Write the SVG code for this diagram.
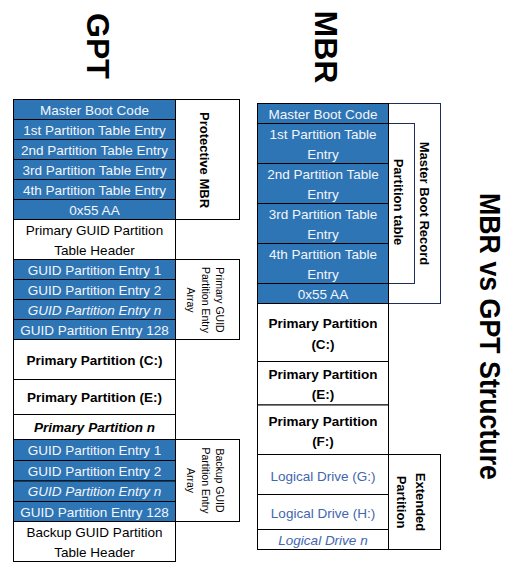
<svg xmlns="http://www.w3.org/2000/svg" width="520" height="572" viewBox="0 0 520 572">
<style>
.bl{fill:#2e75b6;stroke:#000;stroke-width:1}
.wh{fill:#fff;stroke:#000;stroke-width:1}
.nv{fill:#fff;stroke:#1f2d5c;stroke-width:1}
text{font-family:"Liberation Sans",Arial,sans-serif;font-size:13.5px;text-anchor:middle;fill:#000}
.tw{fill:#f4f6fa}
.b{font-weight:bold}
.i{font-style:italic}
.lg{fill:#3f66ae}
.sm{font-size:10.5px}
.vb{font-weight:bold;font-size:13px}
.title{font-weight:bold;font-size:32px}
</style>
<rect width="520" height="572" fill="#fff"/>

<g id="titles">
<text class="title" transform="translate(87,46) rotate(90)">GPT</text>
<text class="title" transform="translate(315,47) rotate(90)">MBR</text>
<text class="title" style="font-size:30px" transform="translate(480,336.5) rotate(90)" textLength="287" lengthAdjust="spacingAndGlyphs">MBR vs GPT Structure</text>
</g>

<!-- GPT column -->
<g id="gpt-protective-mbr">
<rect class="wh" x="175.5" y="99.5" width="64" height="120"/>
<text class="vb" transform="translate(199.5,160) rotate(90)">Protective MBR</text>
</g>
<g id="gpt-master-boot-code"><rect class="bl" x="13.5" y="99.5" width="162" height="20"/><text class="tw" x="94.5" y="114.5">Master Boot Code</text></g>
<g id="gpt-pte1"><rect class="bl" x="13.5" y="119.5" width="162" height="20"/><text class="tw" x="94.5" y="134.5">1st Partition Table Entry</text></g>
<g id="gpt-pte2"><rect class="bl" x="13.5" y="139.5" width="162" height="20"/><text class="tw" x="94.5" y="154.5">2nd Partition Table Entry</text></g>
<g id="gpt-pte3"><rect class="bl" x="13.5" y="159.5" width="162" height="20"/><text class="tw" x="94.5" y="174.5">3rd Partition Table Entry</text></g>
<g id="gpt-pte4"><rect class="bl" x="13.5" y="179.5" width="162" height="20"/><text class="tw" x="94.5" y="194.5">4th Partition Table Entry</text></g>
<g id="gpt-sig"><rect class="bl" x="13.5" y="199.5" width="162" height="20"/><text class="tw" x="94.5" y="214.5">0x55 AA</text></g>
<g id="gpt-primary-header"><rect class="wh" x="13.5" y="219.5" width="162" height="40"/><text x="94.5" y="234.5">Primary GUID Partition</text><text x="94.5" y="254.5">Table Header</text></g>

<g id="gpt-primary-array">
<rect class="wh" x="175.5" y="259.5" width="64" height="80"/>
<text class="sm" transform="translate(216,300) rotate(90)">Primary GUID</text>
<text class="sm" transform="translate(201.5,300) rotate(90)">Partition Entry</text>
<text class="sm" transform="translate(187,300) rotate(90)">Array</text>
</g>
<g id="gpt-p-entry1"><rect class="bl" x="13.5" y="259.5" width="162" height="20"/><text class="tw" x="94.5" y="274.5">GUID Partition Entry 1</text></g>
<g id="gpt-p-entry2"><rect class="bl" x="13.5" y="279.5" width="162" height="20"/><text class="tw" x="94.5" y="294.5">GUID Partition Entry 2</text></g>
<g id="gpt-p-entryn"><rect class="bl" x="13.5" y="299.5" width="162" height="20"/><text class="tw i" x="94.5" y="314.5">GUID Partition Entry n</text></g>
<g id="gpt-p-entry128"><rect class="bl" x="13.5" y="319.5" width="162" height="20"/><text class="tw" x="94.5" y="334.5">GUID Partition Entry 128</text></g>

<g id="gpt-part-c"><rect class="wh" x="13.5" y="339.5" width="162" height="40"/><text class="b" x="94.5" y="364.5">Primary Partition (C:)</text></g>
<g id="gpt-part-e"><rect class="wh" x="13.5" y="379.5" width="162" height="35"/><text class="b" x="94.5" y="402">Primary Partition (E:)</text></g>
<g id="gpt-part-n"><rect class="wh" x="13.5" y="414.5" width="162" height="25"/><text class="b i" x="94.5" y="432">Primary Partition n</text></g>

<g id="gpt-backup-array">
<rect class="wh" x="175.5" y="439.5" width="64" height="82"/>
<text class="sm" transform="translate(216,480.5) rotate(90)">Backup GUID</text>
<text class="sm" transform="translate(201.5,480.5) rotate(90)">Partition Entry</text>
<text class="sm" transform="translate(187,480.5) rotate(90)">Array</text>
</g>
<g id="gpt-b-entry1"><rect class="bl" x="13.5" y="439.5" width="162" height="21"/><text class="tw" x="94.5" y="455">GUID Partition Entry 1</text></g>
<g id="gpt-b-entry2"><rect class="bl" x="13.5" y="460.5" width="162" height="20.5"/><text class="tw" x="94.5" y="475.5">GUID Partition Entry 2</text></g>
<g id="gpt-b-entryn"><rect class="bl" x="13.5" y="481" width="162" height="20.5"/><text class="tw i" x="94.5" y="496">GUID Partition Entry n</text></g>
<g id="gpt-b-entry128"><rect class="bl" x="13.5" y="501.5" width="162" height="20"/><text class="tw" x="94.5" y="516.5">GUID Partition Entry 128</text></g>
<g id="gpt-backup-header"><rect class="wh" x="13.5" y="521.5" width="162" height="40"/><text x="94.5" y="537">Backup GUID Partition</text><text x="94.5" y="556.5">Table Header</text></g>

<!-- MBR column -->
<g id="mbr-master-boot-record">
<rect class="nv" x="388.5" y="103.5" width="52" height="200"/>
<text class="vb" transform="translate(419.5,203.5) rotate(90)">Master Boot Record</text>
</g>
<g id="mbr-partition-table">
<rect class="nv" x="388.5" y="123.5" width="26" height="160"/>
<text class="vb" transform="translate(393.5,202) rotate(90)">Partition table</text>
</g>
<g id="mbr-master-boot-code"><rect class="bl" x="257.5" y="103.5" width="131" height="20"/><text class="tw" x="323" y="118.5">Master Boot Code</text></g>
<g id="mbr-pte1"><rect class="bl" x="257.5" y="123.5" width="131" height="40"/><text class="tw" x="323" y="138.5">1st Partition Table</text><text class="tw" x="323" y="158.5">Entry</text></g>
<g id="mbr-pte2"><rect class="bl" x="257.5" y="163.5" width="131" height="40"/><text class="tw" x="323" y="178.5">2nd Partition Table</text><text class="tw" x="323" y="198.5">Entry</text></g>
<g id="mbr-pte3"><rect class="bl" x="257.5" y="203.5" width="131" height="40"/><text class="tw" x="323" y="218.5">3rd Partition Table</text><text class="tw" x="323" y="238.5">Entry</text></g>
<g id="mbr-pte4"><rect class="bl" x="257.5" y="243.5" width="131" height="40"/><text class="tw" x="323" y="258.5">4th Partition Table</text><text class="tw" x="323" y="278.5">Entry</text></g>
<g id="mbr-sig"><rect class="bl" x="257.5" y="283.5" width="131" height="20"/><text class="tw" x="323" y="298.5">0x55 AA</text></g>

<g id="mbr-part-c"><rect class="wh" x="257.5" y="303.5" width="131" height="58"/><text class="b" x="323" y="328">Primary Partition</text><text class="b" x="323" y="348.5">(C:)</text></g>
<g id="mbr-part-e"><rect class="wh" x="257.5" y="361.5" width="131" height="43.5"/><text class="b" x="323" y="379">Primary Partition</text><text class="b" x="323" y="399">(E:)</text></g>
<g id="mbr-part-f"><rect class="wh" x="257.5" y="405" width="131" height="49.5"/><text class="b" x="323" y="425.5">Primary Partition</text><text class="b" x="323" y="446">(F:)</text></g>

<g id="mbr-extended">
<rect class="wh" x="388.5" y="454.5" width="52" height="95"/>
<text class="vb" transform="translate(416,502) rotate(90)">Extended</text>
<text class="vb" transform="translate(397,502) rotate(90)">Partition</text>
</g>
<g id="mbr-logical-g"><rect class="wh" x="257.5" y="454.5" width="131" height="40"/><text class="lg" x="323" y="480.5">Logical Drive (G:)</text></g>
<g id="mbr-logical-h"><rect class="wh" x="257.5" y="494.5" width="131" height="35"/><text class="lg" x="323" y="517.5">Logical Drive (H:)</text></g>
<g id="mbr-logical-n"><rect class="wh" x="257.5" y="529.5" width="131" height="20"/><text class="lg i" x="323" y="544.5">Logical Drive n</text></g>

<g id="connectors"></g>
</svg>
